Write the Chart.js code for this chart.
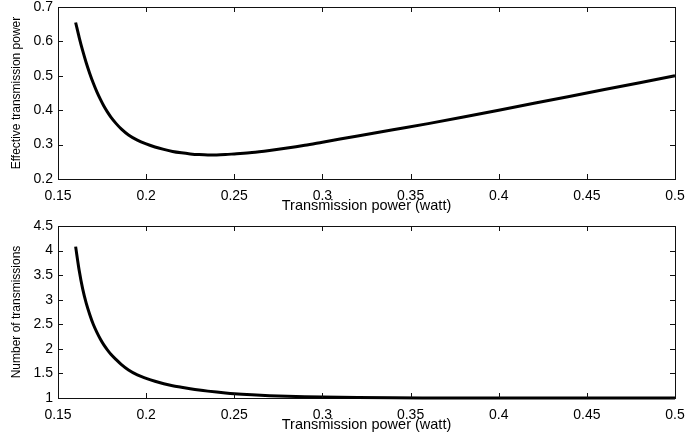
<!DOCTYPE html>
<html>
<head>
<meta charset="utf-8">
<title>Transmission power</title>
<script src="https://cdn.jsdelivr.net/npm/chart.js@4.4.1/dist/chart.umd.min.js"></script>
<style>
  html, body { margin: 0; padding: 0; background: #fff; }
  #wrap { position: relative; width: 699px; height: 438px; }
  #wrap canvas { position: absolute; left: 0; }
  #effChart { top: 0; }
  #numChart { top: 219px; }
</style>
</head>
<body>
<div id="wrap">
  <canvas id="effChart" width="699" height="219"></canvas>
  <canvas id="numChart" width="699" height="219"></canvas>
</div>
<script>
/* =========================
   DATA
========================= */
// transmission power (watt), shared by both panels
const power = [
  0.160, 0.162, 0.164, 0.166, 0.168, 0.170, 0.172, 0.174, 0.176, 0.178,
  0.180, 0.183, 0.186, 0.190, 0.195, 0.200, 0.205, 0.210, 0.215, 0.220,
  0.225, 0.230, 0.235, 0.240, 0.245, 0.250, 0.260, 0.270, 0.280, 0.290,
  0.300, 0.320, 0.340, 0.360, 0.380, 0.400, 0.420, 0.440, 0.460, 0.480,
  0.500
];

const effectivePower = [
  0.655, 0.612, 0.573, 0.538, 0.507, 0.479, 0.454, 0.432, 0.412, 0.395,
  0.380, 0.361, 0.345, 0.328, 0.313, 0.302, 0.293, 0.286, 0.280, 0.276,
  0.273, 0.271, 0.270, 0.270, 0.271, 0.273, 0.277, 0.283, 0.290, 0.298,
  0.307, 0.325, 0.343, 0.361, 0.380, 0.400, 0.420, 0.440, 0.460, 0.480,
  0.500
];

const transmissions = [
  4.08, 3.60, 3.22, 2.93, 2.70, 2.50, 2.34, 2.20, 2.08, 1.98,
  1.89, 1.78, 1.68, 1.57, 1.47, 1.40, 1.34, 1.29, 1.25, 1.22,
  1.19, 1.163, 1.14, 1.12, 1.102, 1.087, 1.065, 1.048, 1.035, 1.025,
  1.018, 1.009, 1.004, 1.002, 1.001, 1.0, 1.0, 1.0, 1.0, 1.0,
  1.0
];

const xTicks = [0.15, 0.2, 0.25, 0.3, 0.35, 0.4, 0.45, 0.5];
const effTicks = [0.2, 0.3, 0.4, 0.5, 0.6, 0.7];
const numTicks = [1, 1.5, 2, 2.5, 3, 3.5, 4, 4.5];

/* =========================
   PANELS
========================= */
const FONT = "'Liberation Sans', Arial, Helvetica, sans-serif";
const TICK_LEN = 5;

function fixedTicks(values) {
  return scale => { scale.ticks = values.map(v => ({ value: v })); };
}

// small tick marks pointing into the box, on all four sides
const inwardTicks = {
  id: 'inwardTicks',
  afterDraw(chart) {
    const { ctx, chartArea: a, scales } = chart;
    ctx.save();
    ctx.strokeStyle = '#111';
    ctx.lineWidth = 1;
    ctx.beginPath();
    scales.x.ticks.forEach(t => {
      const px = Math.round(scales.x.getPixelForValue(t.value)) + 0.5;
      ctx.moveTo(px, a.bottom);
      ctx.lineTo(px, a.bottom - TICK_LEN);
      ctx.moveTo(px, a.top);
      ctx.lineTo(px, a.top + TICK_LEN);
    });
    scales.y.ticks.forEach(t => {
      const py = Math.round(scales.y.getPixelForValue(t.value)) + 0.5;
      ctx.moveTo(a.left, py);
      ctx.lineTo(a.left + TICK_LEN, py);
      ctx.moveTo(a.right, py);
      ctx.lineTo(a.right - TICK_LEN, py);
    });
    ctx.stroke();
    ctx.restore();
  }
};

function makePanel(canvasId, ys, yTicks, yTitle) {
  const xMin = xTicks[0];
  const xMax = xTicks[xTicks.length - 1];
  const yMin = yTicks[0];
  const yMax = yTicks[yTicks.length - 1];

  const frame = { display: true, color: '#111', width: 1 };
  const noGrid = { display: false, drawTicks: false };
  const tickFont = { family: FONT, size: 14, lineHeight: 1 };

  return new Chart(document.getElementById(canvasId), {
    type: 'scatter',
    data: {
      datasets: [{
        data: power.map((p, i) => ({ x: p, y: ys[i] })),
        showLine: true,
        borderColor: '#000',
        borderWidth: 3,
        pointRadius: 0,
        cubicInterpolationMode: 'monotone',
        clip: 4
      }]
    },
    options: {
      responsive: false,
      animation: false,
      devicePixelRatio: 1,
      layout: { autoPadding: false, padding: { top: 7, right: 24, bottom: 0, left: 0 } },
      plugins: { legend: { display: false }, tooltip: { enabled: false } },
      scales: {
        x: {
          type: 'linear', position: 'bottom', min: xMin, max: xMax,
          afterBuildTicks: fixedTicks(xTicks),
          afterFit: s => { s.height = 40; },
          border: frame, grid: noGrid,
          ticks: { font: tickFont, color: '#000', padding: 10, maxRotation: 0, callback: v => String(v) },
          title: {
            display: true, text: 'Transmission power (watt)', color: '#000',
            font: { family: FONT, size: 14.5 }, padding: { top: 0, bottom: 4 }
          }
        },
        x2: {
          type: 'linear', axis: 'x', position: 'top', min: xMin, max: xMax,
          afterFit: s => { s.height = 0; },
          border: frame, grid: noGrid,
          ticks: { display: false }
        },
        y: {
          type: 'linear', position: 'left', min: yMin, max: yMax,
          afterBuildTicks: fixedTicks(yTicks),
          // labels may overhang the box, so keep the top edge where the padding puts it
          afterFit: s => { s.width = 58; s.paddingTop = 0; s.paddingBottom = 0; },
          border: frame, grid: noGrid,
          ticks: { font: tickFont, color: '#000', padding: 5, callback: v => String(v) },
          title: {
            display: true, text: yTitle, color: '#000',
            font: { family: FONT, size: 12 }, padding: { top: 9, bottom: 0 }
          }
        },
        y2: {
          type: 'linear', axis: 'y', position: 'right', min: yMin, max: yMax,
          afterFit: s => { s.width = 0; s.paddingTop = 0; s.paddingBottom = 0; },
          border: frame, grid: noGrid,
          ticks: { display: false }
        }
      }
    },
    plugins: [inwardTicks]
  });
}

makePanel('effChart', effectivePower, effTicks, 'Effective transmission power');
makePanel('numChart', transmissions, numTicks, 'Number of transmissions');
</script>
</body>
</html>
